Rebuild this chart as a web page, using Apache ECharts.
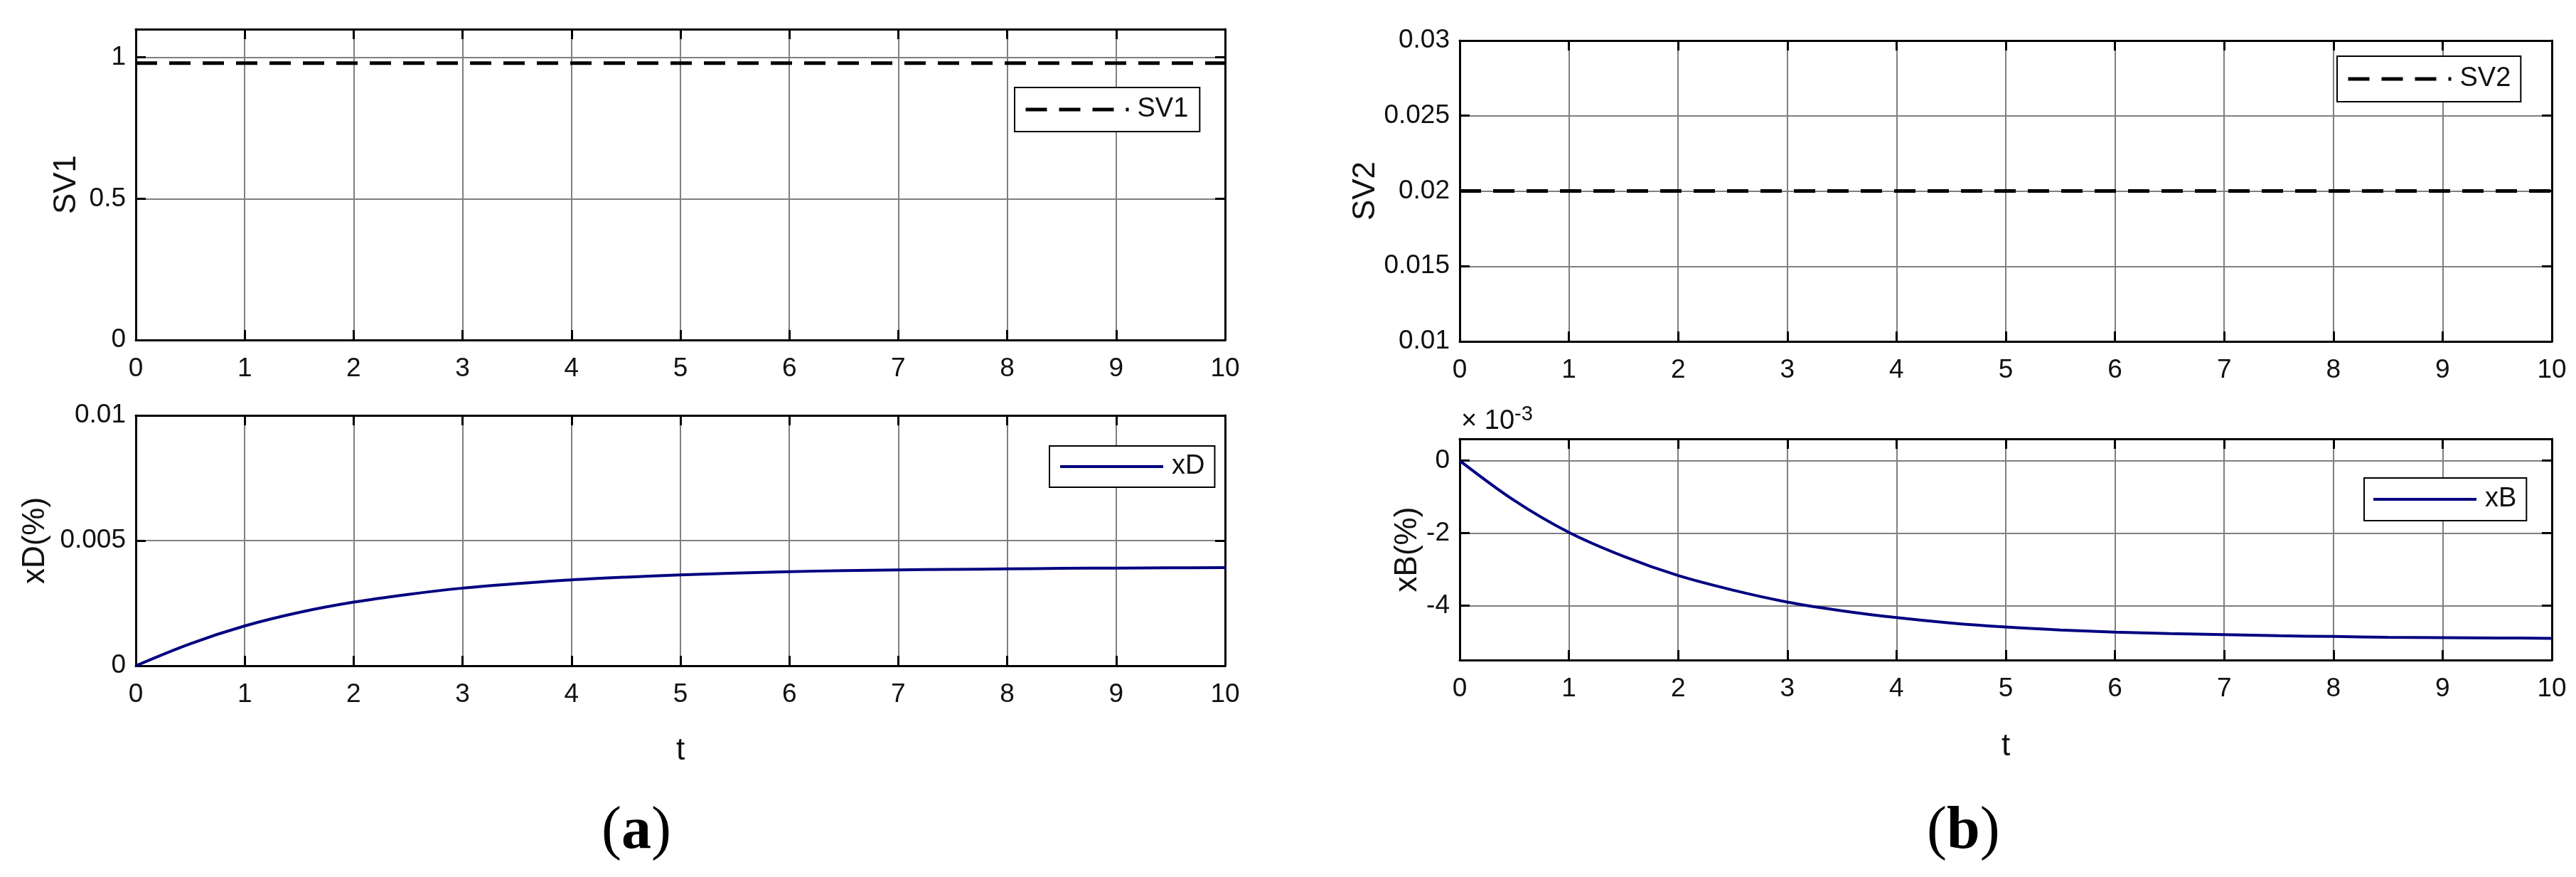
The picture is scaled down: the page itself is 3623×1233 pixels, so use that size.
<!DOCTYPE html>
<html>
<head>
<meta charset="utf-8">
<title>SV1 / SV2 responses</title>
<script src="https://cdn.jsdelivr.net/npm/echarts@6/dist/echarts.min.js"></script>
<style>
  html, body { margin: 0; padding: 0; background: #fff; }
  #chart { width: 3623px; height: 1233px; }
</style>
</head>
<body>
<div id="chart"></div>
<script>
// values
const tValues = [0, 0.5, 1, 1.5, 2, 2.5, 3, 3.5, 4, 4.5, 5, 5.5, 6, 6.5, 7, 7.5, 8, 8.5, 9, 9.5, 10];
const svTimes = [0, 10];
const sv1Values = [0.98, 0.98];
const sv2Values = [0.02, 0.02];
const xDValues = [0, 0.00088, 0.00159, 0.00213, 0.00254, 0.00285, 0.0031, 0.00328, 0.00343, 0.00354,
  0.00363, 0.0037, 0.00376, 0.0038, 0.00383, 0.00385, 0.00387, 0.00389, 0.0039, 0.00391, 0.00392];
// xB in units of 1e-3
const xBValues = [0, -1.10, -1.98, -2.64, -3.17, -3.57, -3.90, -4.14, -4.33, -4.48,
  -4.59, -4.67, -4.73, -4.77, -4.80, -4.83, -4.85, -4.87, -4.88, -4.89, -4.90];

// axis limits
const tRange = [0, 10];
const tStep = 1;
const sv1Range = [0, 1.1];
const xDRange = [0, 0.01];
const sv2Range = [0.01, 0.03];
const xBRange = [-5.5, 0.6];

const FONT = 'Liberation Sans';
const TEXT = '#111';

const chart = echarts.init(document.getElementById('chart'));

const pairs = (xs, ys) => xs.map((x, i) => [x, ys[i]]);
const fmt = (v) => String(+v.toFixed(4));

const boxLine = { show: true, onZero: false, lineStyle: { color: '#000', width: 3 } };
const innerTick = { show: true, inside: true, length: 14, lineStyle: { color: '#000', width: 3 } };
const gridLine = { show: true, showMinLine: false, showMaxLine: false, lineStyle: { color: '#7f7f7f', width: 2 } };

function xAxes(gridIndex, name, nameGap) {
  return [
    {
      type: 'value', gridIndex, position: 'bottom', min: tRange[0], max: tRange[1], interval: tStep,
      name, nameLocation: 'middle', nameGap,
      nameTextStyle: { fontFamily: FONT, fontSize: 44, color: TEXT },
      axisLine: boxLine, axisTick: innerTick, splitLine: gridLine,
      axisLabel: { margin: 22, fontFamily: FONT, fontSize: 37, color: TEXT, formatter: fmt }
    },
    {
      type: 'value', gridIndex, position: 'top', min: tRange[0], max: tRange[1], interval: tStep,
      axisLine: boxLine, axisTick: innerTick, splitLine: { show: false }, axisLabel: { show: false }
    }
  ];
}

function yAxes(gridIndex, range, step, name, nameGap, showMax) {
  const ticks = step ? { interval: step } : { splitNumber: 3 };
  return [
    Object.assign({
      type: 'value', gridIndex, position: 'left', min: range[0], max: range[1],
      name, nameLocation: 'middle', nameGap,
      nameTextStyle: { fontFamily: FONT, fontSize: 44, color: TEXT },
      axisLine: boxLine, axisTick: innerTick, splitLine: gridLine,
      axisLabel: {
        margin: 14, fontFamily: FONT, fontSize: 37, color: TEXT, formatter: fmt,
        showMinLabel: !!step, showMaxLabel: showMax
      }
    }, ticks),
    Object.assign({
      type: 'value', gridIndex, position: 'right', min: range[0], max: range[1],
      axisLine: boxLine, axisTick: innerTick, splitLine: { show: false }, axisLabel: { show: false }
    }, ticks)
  ];
}

const dashed = { color: '#000', width: 5, type: [30, 17] };
const solid = { color: '#000080', width: 4 };

function legendAt(name, left, top, padding, line) {
  return {
    data: [name], left, top, selectedMode: false,
    itemWidth: 145, itemHeight: 20, padding,
    borderColor: '#000', borderWidth: 2, backgroundColor: '#fff',
    itemStyle: { opacity: 0 },
    lineStyle: line,
    textStyle: { fontFamily: FONT, fontSize: 38, color: TEXT, padding: [0, 0, 0, 7] }
  };
}

const option = {
  backgroundColor: '#fff',
  animation: false,
  grid: [
    { left: 191, top: 41, width: 1532, height: 437, outerBoundsMode: 'none' },
    { left: 191, top: 584, width: 1532, height: 352, outerBoundsMode: 'none' },
    { left: 2053, top: 57, width: 1536, height: 423, outerBoundsMode: 'none' },
    { left: 2053, top: 617, width: 1536, height: 311, outerBoundsMode: 'none' }
  ],
  xAxis: [].concat(xAxes(0, '', 98), xAxes(1, 't', 98), xAxes(2, '', 100), xAxes(3, 't', 100)),
  yAxis: [].concat(
    yAxes(0, sv1Range, 0.5, 'SV1', 75, false),
    yAxes(1, xDRange, 0.005, 'xD(%)', 119, true),
    yAxes(2, sv2Range, 0.005, 'SV2', 90, true),
    yAxes(3, xBRange, null, 'xB(%)', 46, false)
  ),
  legend: [
    legendAt('SV1', 1427, 123, [12, 16, 12, 13], dashed),
    legendAt('xD', 1476, 627, [10, 14, 10, 13], solid),
    legendAt('SV2', 3287, 79, [13, 14, 13, 13], dashed),
    legendAt('xB', 3325, 672, [11, 14, 11, 11], solid)
  ],
  series: [
    { name: 'SV1', type: 'line', xAxisIndex: 0, yAxisIndex: 0, data: pairs(svTimes, sv1Values),
      symbol: 'none', color: '#000', lineStyle: dashed },
    { name: 'xD', type: 'line', xAxisIndex: 2, yAxisIndex: 2, data: pairs(tValues, xDValues),
      symbol: 'none', smooth: 0.35, color: '#000080', lineStyle: solid },
    { name: 'SV2', type: 'line', xAxisIndex: 4, yAxisIndex: 4, data: pairs(svTimes, sv2Values),
      symbol: 'none', color: '#000', lineStyle: dashed },
    { name: 'xB', type: 'line', xAxisIndex: 6, yAxisIndex: 6, data: pairs(tValues, xBValues),
      symbol: 'none', smooth: 0.35, color: '#000080', lineStyle: solid }
  ],
  graphic: [
    {
      type: 'text', left: 2055, top: 568,
      style: {
        text: '{a|× 10}{b|-3}',
        rich: {
          a: { fontFamily: FONT, fontSize: 38, lineHeight: 44, verticalAlign: 'bottom', fill: TEXT },
          b: { fontFamily: FONT, fontSize: 29, lineHeight: 29, verticalAlign: 'top', fill: TEXT }
        }
      }
    },
    {
      type: 'text', left: 846, top: 1128,
      style: {
        text: '({b|a})', font: '84px "Liberation Serif"', fill: '#000',
        rich: { b: { fontFamily: 'Liberation Serif', fontSize: 84, fontWeight: 'bold', fill: '#000' } }
      }
    },
    {
      type: 'text', left: 2710, top: 1128,
      style: {
        text: '({b|b})', font: '84px "Liberation Serif"', fill: '#000',
        rich: { b: { fontFamily: 'Liberation Serif', fontSize: 84, fontWeight: 'bold', fill: '#000' } }
      }
    }
  ]
};

chart.setOption(option);

window.addEventListener('resize', () => {
  chart.resize();
});
</script>
</body>
</html>
